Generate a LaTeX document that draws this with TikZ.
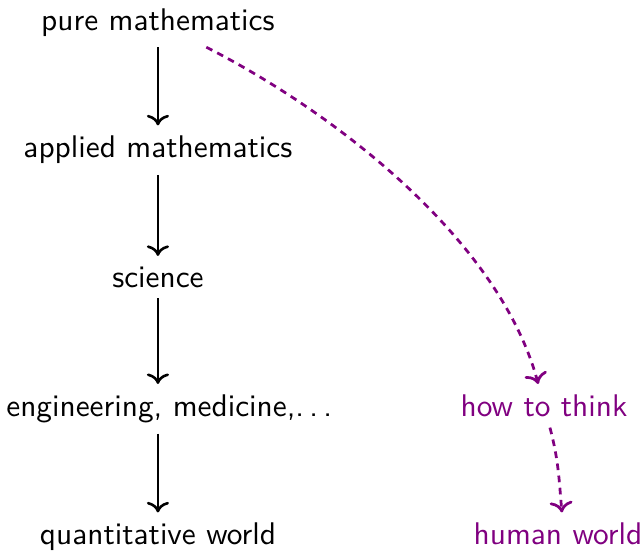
\documentclass[tikz,border=0pt]{standalone}
\usepackage{amsmath,amssymb,amsfonts}
\usepackage{tikz}
\usetikzlibrary{arrows.meta}
\definecolor{thinkpurple}{RGB}{128,0,128}
\newcommand{\spacedots}{.\kern\fontdimen3\font.\kern\fontdimen3\font.}

\begin{document}
\begin{tikzpicture}[
  lbl/.style={anchor=base, font=\sffamily\fontsize{10.27}{12}\selectfont},
  flow/.style={line width=0.85pt, ->},
  link/.style={line width=0.9pt, ->, thinkpurple, dash pattern=on 2.2pt off 1.8pt}]
\useasboundingbox (0,0) rectangle (7.41,-6.35);
% left column
\node[lbl] (pure) at (1.82, -0.35) {pure mathematics};
\node[lbl] (applied) at (1.82, -1.82) {applied mathematics};
\node[lbl] (sci) at (1.82, -3.31) {science};
\node[lbl] (eng) at (1.95, -4.80) {engineering, medicine,\spacedots};
\node[lbl] (quant) at (1.82, -6.28) {quantitative world};
% right column
\node[lbl, text=thinkpurple] (how) at (6.27, -4.80) {how to think};
\node[lbl, text=thinkpurple] (human) at (6.43, -6.28) {human world};
\draw[flow] (pure) -- (applied);
\draw[flow] (applied) -- (sci);
\draw[flow] (sci) -- (sci |- eng.north);
\draw[flow] (quant |- eng.south) -- (quant);
\draw[link] (pure) to[out=-27, in=105, looseness=0.8] (how);
\draw[link] (how) to[out=-75, in=95] ([xshift=1.3pt]human.north);
\end{tikzpicture}
\end{document}
